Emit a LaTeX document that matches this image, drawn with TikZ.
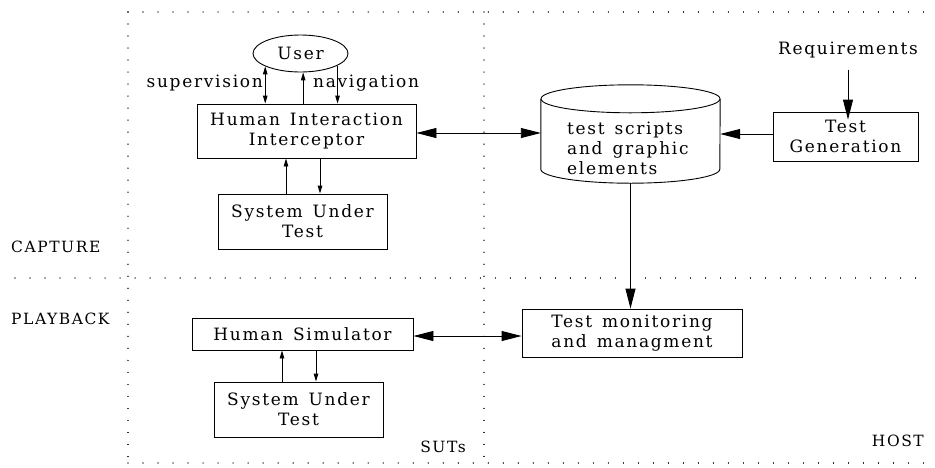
\documentclass[tikz,border=0pt]{standalone}
\usepackage{fontspec}
\setmainfont[LetterSpace=10,WordSpace=1.4]{DejaVu Serif}
\usetikzlibrary{arrows.meta,shapes.geometric}
\begin{document}
\begin{tikzpicture}[x=1pt,y=-1pt,
  every node/.style={font=\fontsize{17}{20}\selectfont},
  caps/.style={font=\fontsize{15.5}{18}\selectfont,inner sep=0pt},
  box/.style={draw,line width=0.9pt,inner sep=0pt,align=center},
  dotline/.style={line width=1.1pt,line cap=round,dash pattern=on 0.01pt off 15pt},
  dotvert/.style={line width=1.1pt,line cap=round,dash pattern=on 0.01pt off 12pt},
  small/.style={line width=0.9pt,-{Triangle[length=8pt,width=4.5pt]}},
  smalltwo/.style={line width=0.9pt,{Triangle[length=8pt,width=4.5pt]}-{Triangle[length=8pt,width=4.5pt]}},
  big/.style={line width=0.9pt,-{Triangle[length=20pt,width=10pt]}},
  bigtwo/.style={line width=0.9pt,{Triangle[length=20pt,width=10pt]}-{Triangle[length=20pt,width=10pt]}}]
\useasboundingbox (0,0) rectangle (935,467);

% dotted frames
\draw[dotline] (128,12) -- (930,12);
\draw[dotline] (128,463) -- (930,463);
\draw[dotline] (15,278) -- (930,278);
\draw[dotvert] (128,12) -- (128,463);
\draw[dotvert] (484,12) -- (484,463);

% nodes
\node[draw,ellipse,line width=0.9pt,minimum width=95,minimum height=37,inner sep=0pt] (user) at (300.5,53.5) {User};
\node[box,minimum width=219,minimum height=54] (hii) at (306.5,131) {Human Interaction\\Interceptor};
\node[box,minimum width=169,minimum height=55] (sut1) at (302.5,221.5) {System Under\\Test};
\node[box,minimum width=221,minimum height=32] (hs) at (302.5,334) {Human Simulator};
\node[box,minimum width=169,minimum height=55] (sut2) at (298.5,409.5) {System Under\\Test};
\node[box,minimum width=145,minimum height=49] (tg) at (845.5,136.5) {Test\\Generation};
\node[box,minimum width=220,minimum height=48] (tmm) at (632,333) {Test monitoring\\and managment};
\node[inner sep=0pt,minimum width=179,minimum height=98] (db) at (630.5,134) {};
\node[align=left,anchor=west,inner sep=0pt] (dbtext) at (567,148) {test scripts\\and graphic\\elements};
\draw[line width=0.9pt] ([yshift=-14pt]db.north west) -- ([yshift=14pt]db.south west)
   arc[start angle=180,end angle=360,x radius=89.5pt,y radius=14pt] -- ([yshift=-14pt]db.north east);
\draw[line width=0.9pt] ([yshift=-14pt]db.north) ellipse[x radius=89.5pt,y radius=14pt];

\node (req) at (848,50) {Requirements};
\node[anchor=east,inner sep=0pt] (sup) at (263,83) {supervision};
\node[anchor=west,inner sep=0pt] (nav) at (313,83) {navigation};
\node[caps,anchor=west] (cap) at (11,247) {CAPTURE};
\node[caps,anchor=west] (play) at (11,319) {PLAYBACK};
\node[caps,anchor=east] (suts) at (466,447) {SUTs};
\node[caps,anchor=east] (host) at (924,441) {HOST};

% connectors
\draw[smalltwo] (user.200) -- (user.200 |- hii.north);
\draw[small] (user.278 |- hii.north) -- (user.278);
\draw[small] (user.342) -- (user.342 |- hii.north);
\draw[small] ([xshift=-16.5pt]sut1.north) -- ([xshift=-16.5pt]sut1.north |- hii.south);
\draw[small] ([xshift=17.5pt]sut1.north |- hii.south) -- ([xshift=17.5pt]sut1.north);
\draw[small] ([xshift=-16.5pt]sut2.north) -- ([xshift=-16.5pt]sut2.north |- hs.south);
\draw[small] ([xshift=17.5pt]sut2.north |- hs.south) -- ([xshift=17.5pt]sut2.north);

\draw[bigtwo] ([yshift=-2pt]hii.east) -- ([yshift=-2pt]hii.east -| db.west);
\draw[big] ([yshift=2.5pt]tg.west) -- ([yshift=2.5pt]tg.west -| db.east);
\draw[big] ([yshift=-8pt]req.south) -- ([yshift=-8pt]req.south |- tg.north);
\draw[big] (db.south) -- (db.south |- tmm.north);
\draw[bigtwo] ([yshift=-2pt]hs.east) -- ([yshift=-2pt]hs.east -| tmm.west);
\end{tikzpicture}
\end{document}
